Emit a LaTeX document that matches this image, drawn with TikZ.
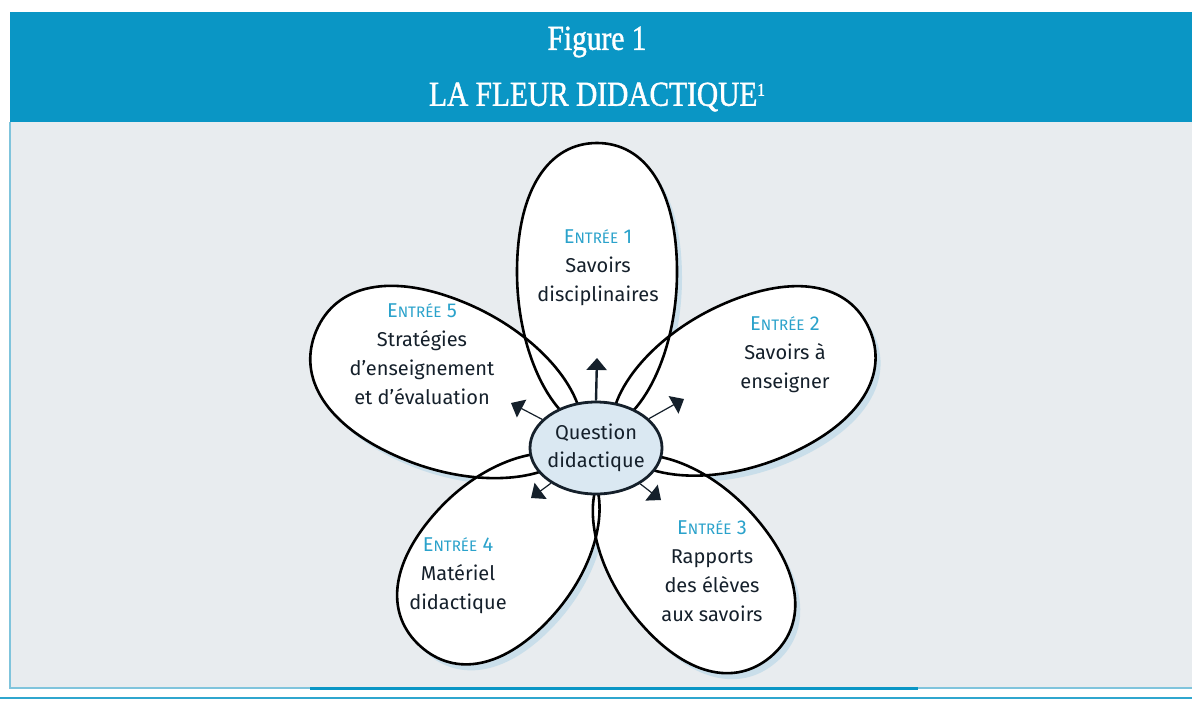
\documentclass[tikz,border=0pt]{standalone}
\usepackage{fontspec}
\setmainfont{Liberation Serif}
\setsansfont{Fira Sans}
\newfontfamily\headfont[FakeStretch=0.84,FakeBold=1.2]{Liberation Serif}
\usetikzlibrary{arrows.meta,positioning,shapes.geometric}

\definecolor{headblue}{HTML}{0A96C5}
\definecolor{panelgrey}{HTML}{E8ECEF}
\definecolor{entreeblue}{HTML}{2AA2CB}
\definecolor{qfill}{HTML}{DAE8F2}
\definecolor{inkdark}{HTML}{15202B}
\definecolor{shadowblue}{HTML}{BCD9E8}
\definecolor{rulelight}{HTML}{7FC4DC}

\newcommand\smc[1]{{\fontsize{7.6}{9}\selectfont #1}}
\newcommand\entree[1]{{\color{entreeblue}E\smc{NTRÉE} #1}}
% petal: angle, length, half width, path options
\newcommand\petal[4]{%
  \path[#4,rotate=#1] (20,0) .. controls (20,{0.5*#3}) and ({0.3*#2},#3) .. ({0.58*#2},#3)
    .. controls ({0.85*#2},#3) and (#2,{0.6*#3}) .. (#2,0)
    .. controls (#2,{-0.6*#3}) and ({0.85*#2},{-#3}) .. ({0.58*#2},{-#3})
    .. controls ({0.3*#2},{-#3}) and (20,{-0.5*#3}) .. (20,0) -- cycle;}

\begin{document}
\begin{tikzpicture}[x=0.5pt,y=-0.5pt,
    petaltext/.style={align=center,font=\sffamily\fontsize{10}{14.5}\selectfont,text=inkdark},
    title/.style={font=\headfont\fontsize{17.5}{20}\selectfont,text=white},
    qnode/.style={ellipse,draw=inkdark,line width=1.4pt,fill=qfill,inner sep=-1pt,
      minimum width=66pt,minimum height=46pt,align=center,
      font=\sffamily\fontsize{10}{14}\selectfont,text=inkdark},
    arr/.style={-{Triangle[width=10pt,length=6pt]},draw=inkdark,line width=0.6pt},
    outline/.style={draw=black,line width=1.3pt}]
  \useasboundingbox (0,0) rectangle (1192,702);
  \fill[white] (0,0) rectangle (1192,702);

  % header
  \fill[headblue] (10,12) rectangle (1192,122);
  \node[title] (fig) at (597,42) {Figure 1};
  \node[title] (head) at (597,97) {LA FLEUR DIDACTIQUE{\fontsize{9}{9}\selectfont\raisebox{5pt}{1}}};

  % panel
  \fill[panelgrey] (10,122) rectangle (1192,688);
  \draw[rulelight,line width=0.6pt] (10,122) -- (10,688) -- (1192,688);
  \draw[headblue,line width=1.5pt] (310,688) -- (918,688);
  \draw[headblue!85,line width=1pt] (0,698) -- (1192,698);

  % petals
  \begin{scope}[shift={(597,450)}]
    \foreach \a/\l/\w in {90/307/80,24/298/82,-50/270/78,-132/264/78,157/305/84}{
      \petal{\a}{\l}{\w}{fill=shadowblue,opacity=0.7,xshift=2.5pt,yshift=-3pt}
    }
    \foreach \a/\l/\w in {90/307/80,24/298/82,-50/270/78,-132/264/78,157/305/84}{
      \petal{\a}{\l}{\w}{fill=white}
    }
    \foreach \a/\l/\w in {90/307/80,24/298/82,-50/270/78,-132/264/78,157/305/84}{
      \petal{\a}{\l}{\w}{outline}
    }
  \end{scope}

  \node[petaltext] (e1) at (598,268) {\entree{1}\\Savoirs\\disciplinaires};
  \node[petaltext] (e2) at (785,355) {\entree{2}\\Savoirs à\\enseigner};
  \node[petaltext] (e3) at (712,571) {\entree{3}\\Rapports\\des élèves\\aux savoirs};
  \node[petaltext] (e4) at (458,576) {\entree{4}\\Matériel\\didactique};
  \node[petaltext] (e5) at (422,354) {\entree{5}\\Stratégies\\d’enseignement\\et d’évaluation};

  % centre
  \node[qnode] (q) at (596,448) {Question\\didactique};
  \coordinate (up) at (597,358);
  \coordinate (ur) at (684,399);
  \coordinate (ul) at (511,403);
  \coordinate (ll) at (531,498);
  \coordinate (lr) at (661,500);
  \draw[arr,line width=1.2pt] (q.90) -- (up);
  \draw[arr] (q.29) -- (ur);
  \draw[arr] (q.152) -- (ul);
  \draw[arr] (q.-142) -- (ll);
  \draw[arr] (q.-39) -- (lr);
\end{tikzpicture}
\end{document}
